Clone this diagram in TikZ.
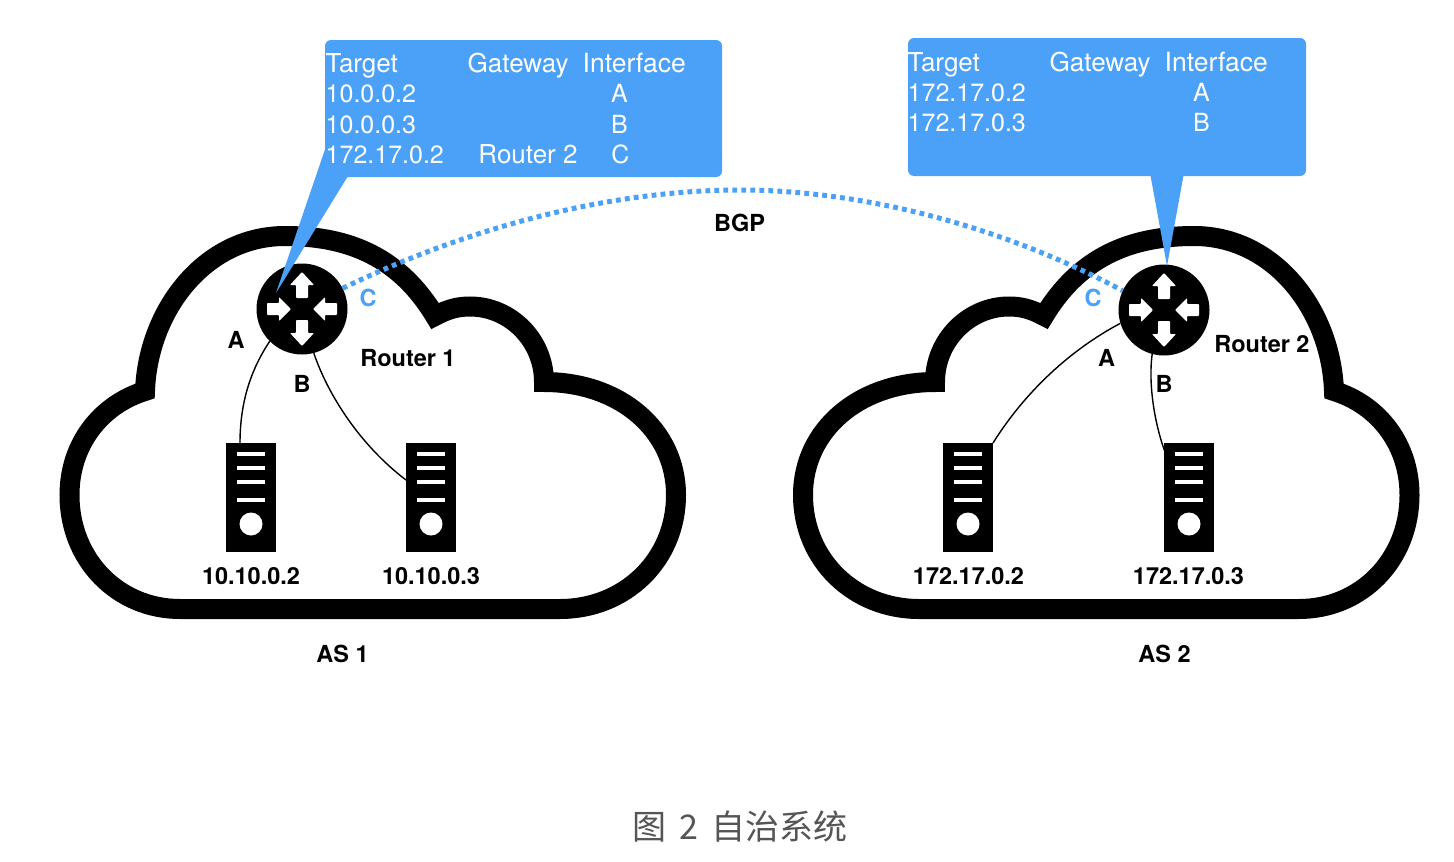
\documentclass[tikz,border=0pt]{standalone}
\usepackage{fontspec}
\setmainfont{TeX Gyre Heros}
\newfontfamily\cjkfont{Noto Sans CJK SC}
\definecolor{callout}{HTML}{4BA1F7}
\definecolor{capgray}{HTML}{555555}
\tikzset{
  cloudline/.style={draw=black,line width=20pt,fill=white,miter limit=10,line join=miter},
  routernode/.style={circle,fill=black,inner sep=0pt,minimum size=91pt},
  servernode/.style={rectangle,fill=black,inner sep=0pt,minimum width=50pt,minimum height=109pt},
  tabletext/.style={text=white,font=\fontsize{25}{25}\selectfont,inner sep=0pt},
  wordtext/.style={text=white,font=\fontsize{26}{26}\selectfont,inner sep=0pt},
  widetext/.style={text=white,font=\fontsize{26.5}{26}\selectfont,inner sep=0pt},
  labeltext/.style={text=black,font=\fontsize{23.5}{24}\selectfont\bfseries,inner sep=0pt},
  iface/.style={text=callout,font=\fontsize{23.5}{24}\selectfont\bfseries,inner sep=0pt},
  linkline/.style={draw=black,line width=1.4pt},
  bgpline/.style={draw=callout,line width=5pt,dash pattern=on 4.8pt off 4.2pt},
  calloutbox/.style={fill=callout,rounded corners=6pt},
  serverbar/.style={fill=white}
}
\newcommand{\cloudshape}{%
  (180,609) .. controls (118,609) and (69.5,560) .. (69.5,495)
  .. controls (69.5,445) and (100,405) .. (145,391)
  .. controls (148,310) and (205,236) .. (285,236)
  .. controls (350,236) and (400,258) .. (435,316)
  .. controls (448,309) and (458,306.5) .. (470,306.5)
  .. controls (510,306.5) and (544,340) .. (544,382)
  .. controls (620,382) and (676,430) .. (676,495)
  .. controls (676,560) and (625,609) .. (560,609) -- cycle}
\newcommand{\routerarrows}[2]{%
  \foreach \ang/\inn/\hb/\out in {90/11/24/37,270/11/24/37,0/35/23/11,180/35/23/11}{%
    \begin{scope}[shift={(#1,#2)},rotate=\ang]
      \fill[white,rounded corners=0.8pt] (\inn,-6) -- (\hb,-6) -- (\hb,-12) -- (\out,0)
        -- (\hb,12) -- (\hb,6) -- (\inn,6) -- cycle;
    \end{scope}}}
\newcommand{\serverface}[1]{%
  \foreach \yy in {454,468,482,500}{\fill[serverbar] (#1-14,\yy-2.2) rectangle (#1+14,\yy+2.2);}
  \fill[white] (#1,524) circle (11.5);}
\begin{document}
\begin{tikzpicture}[x=1pt,y=-1pt]
\useasboundingbox (0,0) rectangle (1454,862);
\fill[white] (0,0) rectangle (1454,862);
% clouds
\path[cloudline] \cloudshape;
\begin{scope}[xshift=1479pt,xscale=-1]
\path[cloudline] \cloudshape;
\end{scope}
% routers
\node[routernode] (r1) at (302,309) {};
\node[routernode] (r2) at (1164,310) {};
\routerarrows{302}{309}
\routerarrows{1164}{310}
% servers
\node[servernode] (s1) at (251,497.5) {};
\node[servernode] (s2) at (431,497.5) {};
\node[servernode] (s3) at (968,497.5) {};
\node[servernode] (s4) at (1189,497.5) {};
\serverface{251}
\serverface{431}
\serverface{968}
\serverface{1189}
% attachment points
\coordinate (s1a) at (240,443);
\coordinate (s2a) at (406,480);
\coordinate (s3a) at (993,443);
\coordinate (s4a) at (1165,452);
% links
\draw[linkline] (r1.225) .. controls (252,368) and (240,400) .. (s1a);
\draw[linkline] (r1.-75) .. controls (328,395) and (360,445) .. (s2a);
\draw[linkline] (r2.197) .. controls (1070,350) and (1025,392) .. (s3a);
\draw[linkline] (r2.-105) .. controls (1148,385) and (1155,425) .. (s4a);
% BGP
\draw[bgpline] (r1.27) .. controls (480,222) and (620,190) .. (740,190)
  .. controls (860,190) and (1000,225) .. (r2.155);
% callouts
\coordinate (tip1) at (276,293);
\coordinate (tip2) at (1167,266);
\node[calloutbox,minimum width=397pt,minimum height=137pt,inner sep=0pt] (box1) at (523.5,108.5) {};
\node[calloutbox,minimum width=398pt,minimum height=138pt,inner sep=0pt] (box2) at (1107,107) {};
\fill[callout] (box1.west |- 0,150) -- (tip1) -- (348,176) -- (348,150) -- cycle;
\fill[callout] (1149.5,170) -- (tip2) -- (1184.5,170) -- cycle;
% table 1
\node[wordtext,anchor=base west] (t1a) at (325.5,72) {Target};
\node[wordtext,anchor=base west] (t1b) at (467.5,72) {Gateway};
\node[widetext,anchor=base west] (t1c) at (582.5,72) {Interface};
\node[tabletext,anchor=base west] (t1d) at (325.5,102) {10.0.0.2};
\node[tabletext,anchor=base] (t1e) at (619.5,102) {A};
\node[tabletext,anchor=base west] (t1f) at (325.5,133) {10.0.0.3};
\node[tabletext,anchor=base] (t1g) at (619.5,133) {B};
\node[tabletext,anchor=base west] (t1h) at (325.5,163) {172.17.0.2};
\node[wordtext,anchor=base] (t1i) at (528,163) {Router 2};
\node[tabletext,anchor=base] (t1j) at (620.5,163) {C};
% table 2
\node[wordtext,anchor=base west] (t2a) at (907.5,71) {Target};
\node[wordtext,anchor=base west] (t2b) at (1049.5,71) {Gateway};
\node[widetext,anchor=base west] (t2c) at (1164.5,71) {Interface};
\node[tabletext,anchor=base west] (t2d) at (907.5,101) {172.17.0.2};
\node[tabletext,anchor=base] (t2e) at (1201.5,101) {A};
\node[tabletext,anchor=base west] (t2f) at (907.5,131) {172.17.0.3};
\node[tabletext,anchor=base] (t2g) at (1201.5,131) {B};
% labels
\node[labeltext] (bgp) at (739.5,223) {BGP};
\node[iface] (c1) at (368,297.5) {C};
\node[iface] (c2) at (1093,297.5) {C};
\node[labeltext] (a1) at (236,340) {A};
\node[labeltext] (b1) at (302,384) {B};
\node[labeltext] (n1) at (408,358) {Router 1};
\node[labeltext] (n2) at (1262,344) {Router 2};
\node[labeltext] (a2) at (1106.5,358) {A};
\node[labeltext] (b2) at (1164,383.5) {B};
\node[labeltext] (l1) at (251,576) {10.10.0.2};
\node[labeltext] (l2) at (431,576) {10.10.0.3};
\node[labeltext] (l3) at (968.5,576) {172.17.0.2};
\node[labeltext] (l4) at (1188.5,576) {172.17.0.3};
\node[labeltext] (as1) at (342.5,654) {AS 1};
\node[labeltext] (as2) at (1164.5,654) {AS 2};
\node[text=capgray,inner sep=0pt,font=\cjkfont\fontsize{34}{36}\selectfont] (cap) at (740,826.5) {图\hspace{12.5pt}2\hspace{13pt}自治系统};
\end{tikzpicture}
\end{document}
